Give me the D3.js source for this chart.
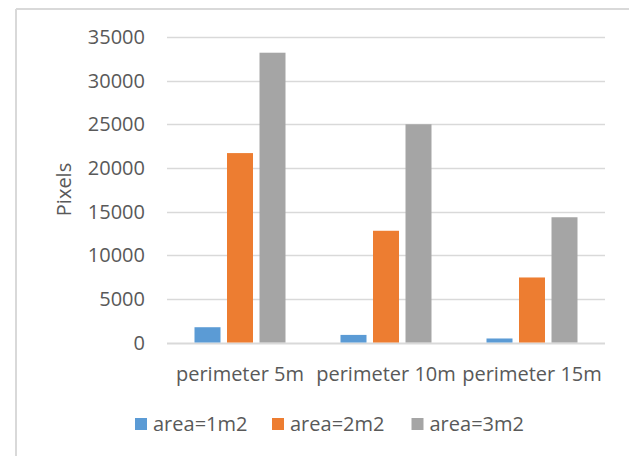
<!DOCTYPE html>
<html>
<head>
<meta charset="utf-8">
<script src="https://cdn.jsdelivr.net/npm/d3@7"></script>
<style>
  body { margin: 0; background: #fff; }
  text { font-family: 'Open Sans', Lato, sans-serif; fill: #595959; }
</style>
</head>
<body>
<div id="chart"></div>
<script>
const categories = ['perimeter 5m', 'perimeter 10m', 'perimeter 15m']
const seriesNames = ['area=1m2', 'area=2m2', 'area=3m2']
const area1 = [1750, 870, 460]
const area2 = [21700, 12800, 7450]
const area3 = [33200, 25000, 14350]
const yTicks = [0, 5000, 10000, 15000, 20000, 25000, 30000, 35000]
const colors = ['#5b9bd5', '#ed7d31', '#a5a5a5']

const width = 629
const height = 456
const margin = { top: 37, left: 167, right: 24, bottom: 114 }
const fontSize = 20

const svg = d3
  .select('#chart')
  .append('svg')
  .attr('width', width)
  .attr('height', height)

// chart frame (only left and top edges visible)
svg.append('line')
  .attr('x1', 16).attr('x2', width).attr('y1', 9).attr('y2', 9)
  .attr('stroke', '#d9d9d9').attr('stroke-width', 2)
svg.append('line')
  .attr('x1', 16).attr('x2', 16).attr('y1', 9).attr('y2', height)
  .attr('stroke', '#d9d9d9').attr('stroke-width', 2)

const y = d3.scaleLinear()
  .domain([0, 35000])
  .range([height - margin.bottom + 0.5, margin.top])

const x0 = d3.scaleBand()
  .domain(categories)
  .range([margin.left, width - margin.right])

const x1 = d3.scaleBand()
  .domain(seriesNames)
  .range([27.5, 118.5])
  .paddingInner(0.2)

// gridlines
svg.append('g')
  .selectAll('line')
  .data(yTicks)
  .enter()
  .append('line')
  .attr('x1', margin.left)
  .attr('x2', width - margin.right)
  .attr('y1', d => Math.round(y(d)) + 0.5)
  .attr('y2', d => Math.round(y(d)) + 0.5)
  .attr('stroke', '#d9d9d9')
  .attr('stroke-width', d => (d === 0 ? 2 : 1.3))

// y tick labels
svg.append('g')
  .selectAll('text')
  .data(yTicks)
  .enter()
  .append('text')
  .attr('x', 145)
  .attr('y', d => y(d))
  .attr('dy', '0.36em')
  .attr('text-anchor', 'end')
  .attr('font-size', fontSize)
  .text(d => d)

const rows = categories.map((c, i) => ({
  cat: c,
  values: [area1[i], area2[i], area3[i]]
}))

const groups = svg.append('g')
  .selectAll('g')
  .data(rows)
  .enter()
  .append('g')
  .attr('transform', d => `translate(${x0(d.cat)},0)`)

groups.selectAll('rect')
  .data(d => d.values.map((v, j) => ({ name: seriesNames[j], value: v, color: colors[j] })))
  .enter()
  .append('rect')
  .attr('x', d => x1(d.name))
  .attr('width', x1.bandwidth())
  .attr('y', d => y(d.value))
  .attr('height', d => y(0) - y(d.value))
  .attr('fill', d => d.color)

// category labels
svg.append('g')
  .selectAll('text')
  .data(categories)
  .enter()
  .append('text')
  .attr('x', d => x0(d) + x0.bandwidth() / 2)
  .attr('y', 381)
  .attr('text-anchor', 'middle')
  .attr('font-size', fontSize)
  .text(d => d)

// axis title
svg.append('text')
  .attr('transform', `translate(71,${(margin.top + height - margin.bottom) / 2}) rotate(-90)`)
  .attr('text-anchor', 'middle')
  .attr('font-size', fontSize)
  .text('Pixels')

// legend
const legendX = [135, 272, 411.5]
const legend = svg.append('g')
  .selectAll('g')
  .data(seriesNames)
  .enter()
  .append('g')
  .attr('transform', (d, i) => `translate(${legendX[i]},418)`)

legend.append('rect')
  .attr('width', 12)
  .attr('height', 12)
  .attr('fill', (d, i) => colors[i])

legend.append('text')
  .attr('x', 18)
  .attr('y', 12.5)
  .attr('font-size', fontSize)
  .text(d => d)
</script>
</body>
</html>
